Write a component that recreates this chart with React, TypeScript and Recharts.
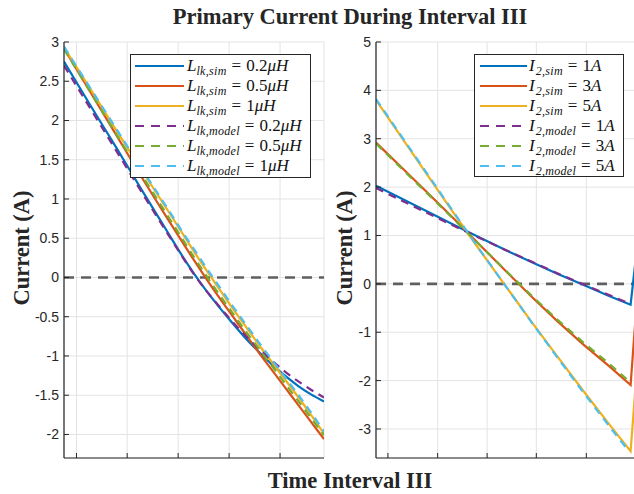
import React from 'react';
import { LineChart, Line, XAxis, YAxis, CartesianGrid, Legend } from 'recharts';

// ---------- data ----------
const leftXTicks = [0.048, 0.243, 0.439, 0.635, 0.831];
const leftYTicks = [3, 2.5, 2, 1.5, 1, 0.5, 0, -0.5, -1, -1.5, -2];
const rightXTicks = [0.046, 0.238, 0.429, 0.619, 0.812];
const rightYTicks = [5, 4, 3, 2, 1, 0, -1, -2, -3];

const leftT = [0, 0.1, 0.2, 0.3, 0.4, 0.45, 0.5, 0.55, 0.6, 0.65, 0.7, 0.75, 0.8, 0.85, 0.9, 0.95, 1.0];
const leftSim02 = [2.75, 2.2, 1.66, 1.11, 0.57, 0.3, 0.05, -0.18, -0.39, -0.59, -0.78, -0.95, -1.11, -1.25, -1.38, -1.49, -1.58];
const leftSim05 = [2.92, 2.37, 1.82, 1.27, 0.74, 0.48, 0.22, -0.03, -0.27, -0.5, -0.73, -0.96, -1.18, -1.4, -1.62, -1.84, -2.06];
const leftSim1 = [2.93, 2.41, 1.88, 1.36, 0.85, 0.59, 0.33, 0.08, -0.16, -0.4, -0.63, -0.86, -1.08, -1.3, -1.52, -1.75, -1.99];
const leftModel02 = [2.7, 2.16, 1.62, 1.08, 0.55, 0.29, 0.04, -0.18, -0.38, -0.57, -0.75, -0.91, -1.06, -1.2, -1.32, -1.43, -1.53];
const leftModel05 = [2.91, 2.37, 1.83, 1.3, 0.78, 0.52, 0.26, 0.01, -0.23, -0.46, -0.69, -0.91, -1.13, -1.35, -1.57, -1.79, -2.01];
const leftModel1 = [2.94, 2.42, 1.9, 1.38, 0.87, 0.61, 0.36, 0.11, -0.13, -0.37, -0.6, -0.83, -1.05, -1.27, -1.49, -1.72, -1.96];

const rightSimT = [0, 0.1, 0.2, 0.3, 0.4, 0.5, 0.6, 0.7, 0.8, 0.9, 0.983, 1.0];
const rightModelT = [0, 0.1, 0.2, 0.3, 0.4, 0.5, 0.6, 0.7, 0.8, 0.9, 0.975];
const rightSim1 = [2.03, 1.76, 1.49, 1.22, 0.96, 0.7, 0.45, 0.21, -0.02, -0.25, -0.43, 0.38];
const rightSim3 = [2.92, 2.4, 1.88, 1.35, 0.81, 0.27, -0.26, -0.77, -1.25, -1.7, -2.09, -0.85];
const rightSim5 = [3.8, 3.02, 2.24, 1.46, 0.7, -0.04, -0.78, -1.5, -2.21, -2.9, -3.46, -2.27];
const rightModel1 = [1.98, 1.72, 1.46, 1.2, 0.95, 0.7, 0.46, 0.22, -0.01, -0.23, -0.4];
const rightModel3 = [2.9, 2.38, 1.86, 1.34, 0.81, 0.28, -0.24, -0.74, -1.21, -1.65, -2.0];
const rightModel5 = [3.82, 3.04, 2.26, 1.48, 0.71, -0.04, -0.79, -1.52, -2.24, -2.94, -3.45];

const zeroLine = [{ t: 0, v: 0 }, { t: 1, v: 0 }];

const leftLabels = [
  { main: 'L', sub: 'lk,sim', val: '0.2', unit: 'μH' },
  { main: 'L', sub: 'lk,sim', val: '0.5', unit: 'μH' },
  { main: 'L', sub: 'lk,sim', val: '1', unit: 'μH' },
  { main: 'L', sub: 'lk,model', val: '0.2', unit: 'μH' },
  { main: 'L', sub: 'lk,model', val: '0.5', unit: 'μH' },
  { main: 'L', sub: 'lk,model', val: '1', unit: 'μH' },
];
const rightLabels = [
  { main: 'I', sub: '2,sim', val: '1', unit: 'A' },
  { main: 'I', sub: '2,sim', val: '3', unit: 'A' },
  { main: 'I', sub: '2,sim', val: '5', unit: 'A' },
  { main: 'I', sub: '2,model', val: '1', unit: 'A' },
  { main: 'I', sub: '2,model', val: '3', unit: 'A' },
  { main: 'I', sub: '2,model', val: '5', unit: 'A' },
];

const COLORS = ['#0072BD', '#D95319', '#EDB120', '#7E2F8E', '#77AC30', '#4DBEEE'];
const DASHED = [false, false, false, true, true, true];

const toPts = (t: number[], v: number[]) => t.map((x, i) => ({ t: x, v: v[i] }));

const leftSeries = [
  toPts(leftT, leftSim02), toPts(leftT, leftSim05), toPts(leftT, leftSim1),
  toPts(leftT, leftModel02), toPts(leftT, leftModel05), toPts(leftT, leftModel1),
];
const rightSeries = [
  toPts(rightSimT, rightSim1), toPts(rightSimT, rightSim3), toPts(rightSimT, rightSim5),
  toPts(rightModelT, rightModel1), toPts(rightModelT, rightModel3), toPts(rightModelT, rightModel5),
];

// ---------- styles ----------
const SERIF = "'Liberation Serif', 'Times New Roman', serif";
const SANS = "'Liberation Sans', Arial, Helvetica, sans-serif";
const AX = '#262626';
const GRID = '#e3e3e3';

const NoTick = () => <g />;

type Lab = { main: string; sub: string; val: string; unit: string };

function LegendBox({ labels, sampleLeft, sampleLen, textGap, subGap }: { labels: Lab[]; sampleLeft: number; sampleLen: number; textGap: number; subGap: number }) {
  return (
    <div style={{ border: `1px solid ${AX}`, background: '#fff', boxSizing: 'border-box', width: '100%', height: '100%', paddingTop: 1 }}>
      {labels.map((l, i) => (
        <div key={i} style={{ height: 20, display: 'flex', alignItems: 'center' }}>
          <svg width={sampleLeft + sampleLen} height={20} style={{ flex: 'none' }}>
            <line x1={sampleLeft} x2={sampleLeft + sampleLen} y1={10} y2={10} stroke={COLORS[i]} strokeWidth={2.2}
              strokeDasharray={DASHED[i] ? '9 7' : undefined} />
          </svg>
          <span style={{ marginLeft: textGap, fontFamily: SERIF, fontSize: 17, whiteSpace: 'nowrap', color: '#111', lineHeight: '20px' }}>
            <i>{l.main}</i>
            <i style={{ fontSize: 12, position: 'relative', top: 4, marginLeft: subGap, letterSpacing: 0.3 }}>{l.sub}</i>
            <span style={{ margin: '0 5px' }}>=</span>
            {l.val}
            <i>{l.unit}</i>
          </span>
        </div>
      ))}
    </div>
  );
}

function Panel({ series, xTicks, yTicks, yDomain, width, left, margin, labels, legendPos, sampleLeft, sampleLen, textGap, subGap, curve }: any) {
  return (
    <div style={{ position: 'absolute', left, top: 0 }}>
      <LineChart width={width} height={494} margin={margin}>
        <CartesianGrid stroke={GRID} strokeWidth={1} />
        <XAxis dataKey="t" type="number" domain={[0, 1]} ticks={xTicks} allowDataOverflow height={30} interval={0}
          tick={NoTick} tickSize={-5} tickLine={{ stroke: AX }} axisLine={{ stroke: AX, strokeWidth: 1.2 }} />
        <XAxis xAxisId="top" orientation="top" dataKey="t" type="number" domain={[0, 1]} ticks={xTicks} allowDataOverflow height={0} interval={0}
          tick={NoTick} tickSize={-5} tickLine={{ stroke: AX }} axisLine={{ stroke: AX, strokeWidth: 1.2 }} />
        <YAxis type="number" domain={yDomain} ticks={yTicks} allowDataOverflow width={40} interval={0}
          tickSize={-5} tickMargin={10} tickLine={{ stroke: AX }} axisLine={{ stroke: AX, strokeWidth: 1.2 }}
          tick={{ fill: AX, fontSize: 14, fontFamily: SANS }} tickFormatter={(v: number) => String(v)} />
        <YAxis yAxisId="right" orientation="right" type="number" domain={yDomain} ticks={yTicks} allowDataOverflow width={0} interval={0}
          tick={NoTick} tickSize={-5} tickLine={{ stroke: AX }} axisLine={{ stroke: AX, strokeWidth: 1.2 }} />
        <Line data={zeroLine} dataKey="v" stroke="#5f5f5f" strokeWidth={2.6} strokeDasharray="10 7" dot={false}
          isAnimationActive={false} legendType="none" />
        {series.map((d: any, i: number) => (
          <Line key={i} data={d} dataKey="v" type={curve} stroke={COLORS[i]} strokeWidth={2.2}
            strokeDasharray={DASHED[i] ? '8 6' : undefined} dot={false} isAnimationActive={false} />
        ))}
        <Legend layout="horizontal" verticalAlign="middle" align="center"
          wrapperStyle={{ left: legendPos.left, top: legendPos.top, width: legendPos.width, height: legendPos.height }}
          content={() => <LegendBox labels={labels} sampleLeft={sampleLeft} sampleLen={sampleLen} textGap={textGap} subGap={subGap} />} />
      </LineChart>
    </div>
  );
}

export default function App() {
  return (
    <div style={{ position: 'absolute', left: 0, top: 0, width: 634, height: 494, overflow: 'hidden', background: '#fff' }}>
      <Panel series={leftSeries} xTicks={leftXTicks} yTicks={leftYTicks} yDomain={[-2.3, 3]} width={330} left={0}
        margin={{ top: 42, right: 6, bottom: 6, left: 24 }} labels={leftLabels} curve="monotone"
        legendPos={{ left: 130, top: 54, width: 181, height: 124 }} sampleLeft={4} sampleLen={49} textGap={3} subGap={0} />
      <Panel series={rightSeries} xTicks={rightXTicks} yTicks={rightYTicks} yDomain={[-3.6, 5]} width={300} left={336}
        margin={{ top: 42, right: 1, bottom: 6, left: 0 }} labels={rightLabels} curve="linear"
        legendPos={{ left: 138, top: 54, width: 150, height: 123 }} sampleLeft={5} sampleLen={47} textGap={2} subGap={1} />
      <svg width={634} height={494} style={{ position: 'absolute', left: 0, top: 0, pointerEvents: 'none' }}>
        <text x={350} y={16} textAnchor="middle" dominantBaseline="central" fontFamily={SERIF} fontWeight="bold" fontSize={22.5} fill={AX}>
          Primary Current During Interval III
        </text>
        <text x={350} y={480} textAnchor="middle" dominantBaseline="central" fontFamily={SERIF} fontWeight="bold" fontSize={22.5} fill={AX}>
          Time Interval III
        </text>
        <text transform="translate(21,248) rotate(-90)" textAnchor="middle" dominantBaseline="central" fontFamily={SERIF} fontWeight="bold" fontSize={22.5} fill={AX}>
          Current (A)
        </text>
        <text transform="translate(344,248) rotate(-90)" textAnchor="middle" dominantBaseline="central" fontFamily={SERIF} fontWeight="bold" fontSize={22.5} fill={AX}>
          Current (A)
        </text>
      </svg>
    </div>
  );
}
